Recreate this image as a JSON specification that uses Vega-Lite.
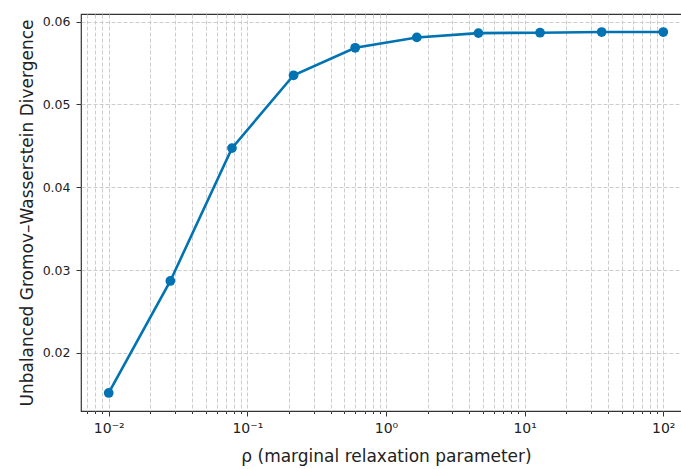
{
  "$schema": "https://vega.github.io/schema/vega-lite/v6.json",
  "width": 610,
  "height": 397,
  "autosize": {"type": "none"},
  "padding": {"left": 81, "top": 14, "right": 0, "bottom": 58},
  "background": "white",
  "config": {
    "view": {"stroke": "#333333", "strokeWidth": 1.2},
    "font": "DejaVu Sans"
  },
  "data": {
    "values": [
      {"rho": 0.01, "gw": 0.01515},
      {"rho": 0.027826, "gw": 0.02868},
      {"rho": 0.077426, "gw": 0.04473},
      {"rho": 0.215443, "gw": 0.05353},
      {"rho": 0.599484, "gw": 0.05685},
      {"rho": 1.668101, "gw": 0.0581},
      {"rho": 4.641589, "gw": 0.05862},
      {"rho": 12.915497, "gw": 0.05867},
      {"rho": 35.938137, "gw": 0.05875},
      {"rho": 100, "gw": 0.05875}
    ]
  },
  "encoding": {
    "x": {
      "field": "rho",
      "type": "quantitative",
      "scale": {"type": "log", "domain": [0.0063096, 158.489], "nice": false},
      "axis": {
        "values": [0.007, 0.008, 0.009, 0.01, 0.02, 0.03, 0.04, 0.05, 0.06, 0.07, 0.08, 0.09, 0.1, 0.2, 0.3, 0.4, 0.5, 0.6, 0.7, 0.8, 0.9, 1, 2, 3, 4, 5, 6, 7, 8, 9, 10, 20, 30, 40, 50, 60, 70, 80, 90, 100],
        "labelExpr": "datum.value == 0.01 ? '10⁻²' : datum.value == 0.1 ? '10⁻¹' : datum.value == 1 ? '10⁰' : datum.value == 10 ? '10¹' : datum.value == 100 ? '10²' : ''",
        "tickSize": {"condition": {"test": "abs(log(datum.value)/LN10 - round(log(datum.value)/LN10)) < 0.000001", "value": 5}, "value": 2.5},
        "grid": true,
        "gridDash": [4, 2],
        "gridColor": "#cccccc",
        "gridWidth": 1,
        "domain": false,
        "tickColor": "#333333",
        "labelColor": "#222222",
        "labelFontSize": 14,
        "labelPadding": 5,
        "labelOverlap": false,
        "labelFlush": false,
        "title": "ρ (marginal relaxation parameter)",
        "titleFontSize": 17,
        "titleFontWeight": "normal",
        "titleColor": "#222222",
        "titlePadding": 13
      }
    },
    "y": {
      "field": "gw",
      "type": "quantitative",
      "scale": {"domain": [0.01297, 0.06093], "nice": false, "zero": false},
      "axis": {
        "values": [0.02, 0.03, 0.04, 0.05, 0.06],
        "format": ".2f",
        "grid": true,
        "gridDash": [4, 2],
        "gridColor": "#cccccc",
        "gridWidth": 1,
        "domain": false,
        "tickSize": 5,
        "tickColor": "#333333",
        "labelColor": "#222222",
        "labelFontSize": 12.5,
        "labelPadding": 6,
        "title": "Unbalanced Gromov–Wasserstein Divergence",
        "titleFontSize": 17,
        "titleFontWeight": "normal",
        "titleColor": "#222222",
        "titlePadding": 6
      }
    }
  },
  "layer": [
    {"mark": {"type": "line", "color": "#0173B2", "strokeWidth": 2.6}},
    {"mark": {"type": "point", "filled": true, "color": "#0173B2", "size": 95, "opacity": 1}}
  ]
}
